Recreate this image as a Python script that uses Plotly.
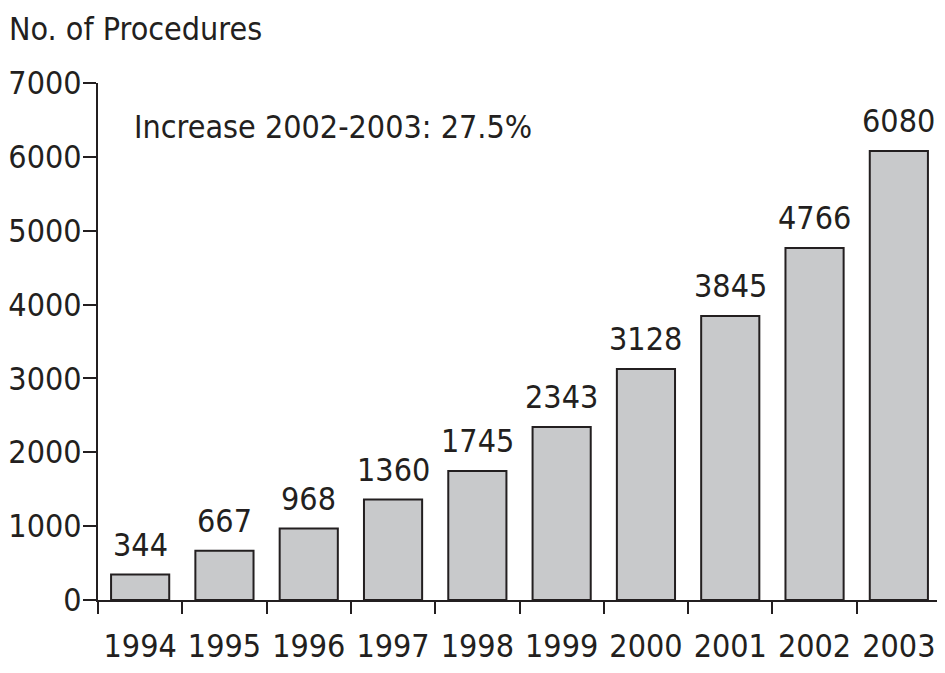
import plotly.graph_objects as go

years = ["1994", "1995", "1996", "1997", "1998", "1999", "2000", "2001", "2002", "2003"]
procedures = [344, 667, 968, 1360, 1745, 2343, 3128, 3845, 4766, 6080]
y_ticks = [0, 1000, 2000, 3000, 4000, 5000, 6000, 7000]
y_title = "No. of Procedures"
note = "Increase 2002-2003: 27.5%"

FONT = "DejaVu Sans Condensed, Liberation Sans Narrow, sans-serif"
INK = "#231f20"
FS = 32

fig = go.Figure()
fig.add_trace(go.Bar(
    x=years, y=procedures,
    marker=dict(color="#c8c9cb", line=dict(color=INK, width=2)),
    width=0.69,
    cliponaxis=False,
))

for i, v in enumerate(procedures):
    fig.add_annotation(x=i, y=v, xref="x", yref="y", text=str(v), showarrow=False,
                       yanchor="bottom", yshift=9,
                       font=dict(family=FONT, size=FS, color=INK))

fig.add_annotation(x=0.04, xref="paper", y=6400, yref="y", text=note,
                   showarrow=False, xanchor="left", yanchor="middle",
                   font=dict(family=FONT, size=FS, color=INK))
fig.add_annotation(x=-90 / 843, xref="paper", y=1 + 74 / 517, yref="paper",
                   text=y_title, showarrow=False, xanchor="left", yanchor="top",
                   borderpad=0,
                   font=dict(family=FONT, size=FS, color=INK))

fig.update_layout(
    width=937, height=665,
    margin=dict(l=90, r=4, t=75, b=73, autoexpand=False),
    paper_bgcolor="white", plot_bgcolor="white",
    showlegend=False,
    font=dict(family=FONT, size=FS, color=INK),
    xaxis=dict(
        type="category", range=[-0.5, 9.5], tickangle=0, automargin=False,
        showline=True, linecolor=INK, linewidth=2,
        ticks="outside", tickson="boundaries", ticklen=12, tickwidth=2, tickcolor=INK,
        ticklabelstandoff=17,
        showgrid=False, zeroline=False,
        tickfont=dict(family=FONT, size=FS, color=INK),
    ),
    yaxis=dict(
        range=[0, 7000], tickvals=y_ticks, automargin=False,
        showline=True, linecolor=INK, linewidth=2,
        ticks="outside", ticklen=13, tickwidth=2, tickcolor=INK,
        ticklabelstandoff=-5,
        showgrid=False, zeroline=False,
        tickfont=dict(family=FONT, size=FS, color=INK),
    ),
)

fig.write_html("out.html")
